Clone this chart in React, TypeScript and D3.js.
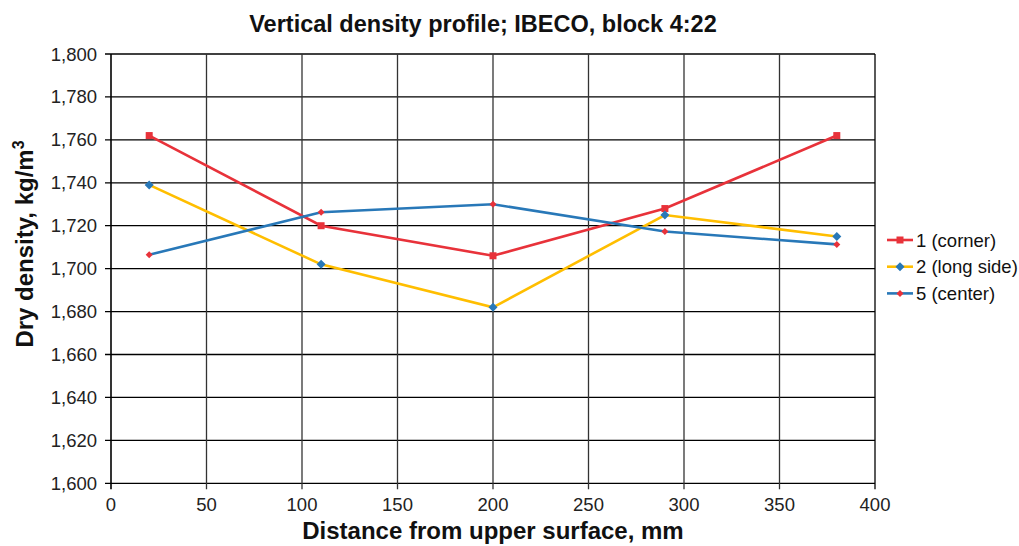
import React from "react";
import * as d3 from "d3";

const distances = [20, 110, 200, 290, 380];
const corner = [1762, 1720, 1706, 1728, 1762];
const longSide = [1739, 1702, 1682, 1725, 1715];
const center = [1706.5, 1726.3, 1730, 1717.3, 1711.3];
const xTicks = [0, 50, 100, 150, 200, 250, 300, 350, 400];
const yTicks = [1600, 1620, 1640, 1660, 1680, 1700, 1720, 1740, 1760, 1780, 1800];

const RED = "#e8323a";
const YELLOW = "#ffbe00";
const BLUE = "#2878b8";

const series = [
  { name: "1 (corner)", values: corner, line: RED, marker: RED, shape: "square", size: 7 },
  { name: "2 (long side)", values: longSide, line: YELLOW, marker: BLUE, shape: "diamond", size: 9 },
  { name: "5 (center)", values: center, line: BLUE, marker: RED, shape: "diamond", size: 7 },
];

function Marker({ x, y, shape, size, color }: any) {
  if (shape === "square") {
    return <rect x={x - size / 2} y={y - size / 2} width={size} height={size} fill={color} />;
  }
  const h = size / 2;
  return <path d={`M${x},${y - h}L${x + h},${y}L${x},${y + h}L${x - h},${y}Z`} fill={color} />;
}

export default function App() {
  const W = 1019, H = 546;
  const x = d3.scaleLinear().domain([0, 400]).range([111, 875]);
  const y = d3.scaleLinear().domain([1600, 1800]).range([483.3, 54]);
  const font = "Arial, 'Liberation Sans', sans-serif";
  const line = d3.line<number>().x((_, i) => x(distances[i])).y((d) => y(d));

  return (
    <svg width={W} height={H} style={{ position: "absolute", left: 0, top: 0 }} fontFamily={font}>
      <rect width={W} height={H} fill="#fff" />
      <text x={483} y={31.5} textAnchor="middle" fontSize={23.5} fontWeight="bold" fill="#111">
        Vertical density profile; IBECO, block 4:22
      </text>
      {/* horizontal grid */}
      {yTicks.map((t) => (
        <g key={"y" + t}>
          <line x1={105} x2={x(400)} y1={y(t)} y2={y(t)} stroke="#000" strokeWidth={1.3} />
          <text x={97} y={y(t) + 6.5} textAnchor="end" fontSize={18.5} fill="#222">
            {d3.format(",")(t)}
          </text>
        </g>
      ))}
      {/* vertical grid */}
      {xTicks.map((t) => (
        <g key={"x" + t}>
          <line x1={x(t)} x2={x(t)} y1={y(1800)} y2={y(1600) + 6} stroke={t === 0 || t === 400 ? "#000" : "#333"} strokeWidth={t === 0 ? 1.6 : 1.3} />
          <text x={x(t)} y={511} textAnchor="middle" fontSize={18.5} fill="#222">
            {t}
          </text>
        </g>
      ))}
      {series.map((s) => (
        <g key={s.name}>
          <path d={line(s.values) || ""} fill="none" stroke={s.line} strokeWidth={2.6} />
          {s.values.map((v, i) => (
            <Marker key={i} x={x(distances[i])} y={y(v)} shape={s.shape} size={s.size} color={s.marker} />
          ))}
        </g>
      ))}
      {/* legend */}
      {series.map((s, i) => {
        const ly = 240 + i * 26.7;
        return (
          <g key={"l" + i}>
            <line x1={887} x2={913} y1={ly} y2={ly} stroke={s.line} strokeWidth={2.6} />
            <Marker x={900} y={ly} shape={s.shape} size={s.size} color={s.marker} />
            <text x={916} y={ly + 6.5} fontSize={18.5} fill="#111">
              {s.name}
            </text>
          </g>
        );
      })}
      <text x={493} y={539} textAnchor="middle" fontSize={24} fontWeight="bold" fill="#111">
        Distance from upper surface, mm
      </text>
      <text transform="translate(33,244) rotate(-90)" textAnchor="middle" fontSize={24} fontWeight="bold" fill="#111">
        Dry density, kg/m<tspan fontSize={16} dy={-9}>3</tspan>
      </text>
    </svg>
  );
}
